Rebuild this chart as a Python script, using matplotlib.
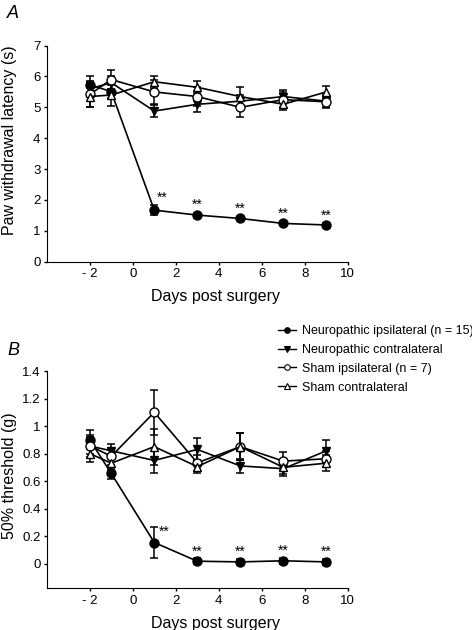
import matplotlib
matplotlib.use("Agg")
import matplotlib.pyplot as plt

plt.rcParams['font.family'] = ['Liberation Sans', 'DejaVu Sans']

days = [-2, -1, 1, 3, 5, 7, 9]

# panel A: paw withdrawal latency (s)
lat_np_ipsi = [5.73, 5.51, 1.67, 1.51, 1.40, 1.24, 1.19]
lat_np_ipsi_err = [0.30, 0.20, 0.17, 0.08, 0.06, 0.06, 0.06]
lat_np_contra = [5.60, 5.80, 4.88, 5.10, 5.20, 5.35, 5.20]
lat_np_contra_err = [0.25, 0.20, 0.20, 0.25, 0.20, 0.20, 0.20]
lat_sham_ipsi = [5.42, 5.90, 5.50, 5.35, 5.00, 5.25, 5.18]
lat_sham_ipsi_err = [0.40, 0.30, 0.40, 0.30, 0.30, 0.25, 0.20]
lat_sham_contra = [5.35, 5.40, 5.83, 5.65, 5.35, 5.10, 5.50]
lat_sham_contra_err = [0.35, 0.35, 0.20, 0.20, 0.30, 0.20, 0.20]

# panel B: 50% threshold (g)
thr_np_ipsi = [0.90, 0.655, 0.153, 0.017, 0.012, 0.020, 0.012]
thr_np_ipsi_err = [0.07, 0.04, 0.11, 0.02, 0.02, 0.02, 0.02]
thr_np_contra = [0.855, 0.82, 0.75, 0.83, 0.71, 0.69, 0.82]
thr_np_contra_err = [0.08, 0.05, 0.09, 0.08, 0.05, 0.05, 0.08]
thr_sham_ipsi = [0.857, 0.78, 1.10, 0.733, 0.85, 0.745, 0.762]
thr_sham_ipsi_err = [0.06, 0.06, 0.165, 0.06, 0.10, 0.065, 0.06]
thr_sham_contra = [0.80, 0.73, 0.85, 0.705, 0.85, 0.70, 0.73]
thr_sham_contra_err = [0.06, 0.05, 0.13, 0.05, 0.10, 0.05, 0.06]

labels = ['Neuropathic ipsilateral (n = 15)', 'Neuropathic contralateral',
          'Sham ipsilateral (n = 7)', 'Sham contralateral']
markers = ['o', 'v', 'o', '^']
faces = ['black', 'black', 'white', 'white']
xticks = [-2, 0, 2, 4, 6, 8, 10]
xticklabels = ['- 2', '0', '2', '4', '6', '8', '10']


def draw_panel(ax, series, errs, star_offset, first_star):
    for i, (y, e) in enumerate(zip(series, errs)):
        ax.errorbar(days, y, yerr=e, fmt='none', ecolor='black', elinewidth=1.1,
                    capsize=3, capthick=1.1, zorder=2)
        ax.plot(days, y, color='black', lw=1.2, marker=markers[i],
                markersize=6.5 if markers[i] == 'o' else 6,
                markerfacecolor=faces[i], markeredgecolor='black',
                markeredgewidth=1.0, zorder=3)
    # significance stars over neuropathic ipsilateral
    y0, e0 = series[0], errs[0]
    for k in range(2, len(days)):
        if k == 2:
            ax.text(days[k] + first_star[0], y0[k] + e0[k] + first_star[1], '**',
                    ha='center', va='bottom', fontsize=10)
        else:
            ax.text(days[k], y0[k] + e0[k] + star_offset, '**',
                    ha='center', va='bottom', fontsize=10)
    ax.spines['top'].set_visible(False)
    ax.spines['right'].set_visible(False)
    ax.set_xlim(-4, 10)
    ax.set_xticks(xticks)
    ax.set_xticklabels(xticklabels)
    ax.tick_params(labelsize=9.5, length=2.5, width=1, pad=2, direction='out')
    ax.set_xlabel('Days post surgery', fontsize=11.5)
    ax.xaxis.set_label_coords(0.562, -0.128)


fig = plt.figure(figsize=(4.72, 6.3), dpi=100)
axA = fig.add_axes([0.099, 0.5846, 0.638, 0.343])
axB = fig.add_axes([0.099, 0.0662, 0.638, 0.3448])

draw_panel(axA, [lat_np_ipsi, lat_np_contra, lat_sham_ipsi, lat_sham_contra],
           [lat_np_ipsi_err, lat_np_contra_err, lat_sham_ipsi_err, lat_sham_contra_err],
           0.02, (0.38, 0.02))
axA.set_ylim(0, 7)
axA.set_yticks(range(0, 8))
axA.set_ylabel('Paw withdrawal latency (s)', fontsize=11.5)
axA.yaxis.set_label_coords(-0.1, 0.563)

draw_panel(axB, [thr_np_ipsi, thr_np_contra, thr_sham_ipsi, thr_sham_contra],
           [thr_np_ipsi_err, thr_np_contra_err, thr_sham_ipsi_err, thr_sham_contra_err],
           0.0, (0.45, -0.08))
axB.set_ylim(-0.18, 1.4)
axB.set_yticks([0, 0.2, 0.4, 0.6, 0.8, 1.0, 1.2, 1.4])
axB.set_yticklabels(['0', '0.2', '0.4', '0.6', '0.8', '1', '1.2', '1.4'])
axB.set_ylabel('50% threshold (g)', fontsize=11.5)
axB.yaxis.set_label_coords(-0.1, 0.517)

fig.text(0.015, 0.992, 'A', fontsize=13, style='italic', va='top')
fig.text(0.015, 0.457, 'B', fontsize=13, style='italic', va='top')

leg_handles = []
for i in range(4):
    h, = axB.plot([], [], color='black', lw=1.0, marker=markers[i], markersize=4,
                  markerfacecolor=faces[i], markeredgecolor='black', markeredgewidth=0.8)
    leg_handles.append(h)
fig.legend(leg_handles, labels, loc='upper left', bbox_to_anchor=(0.589, 0.484),
           frameon=False, fontsize=9.0, handlelength=1.45, handletextpad=0.45,
           labelspacing=0.55, borderaxespad=0, borderpad=0)

fig.savefig('out.png', dpi=100)
